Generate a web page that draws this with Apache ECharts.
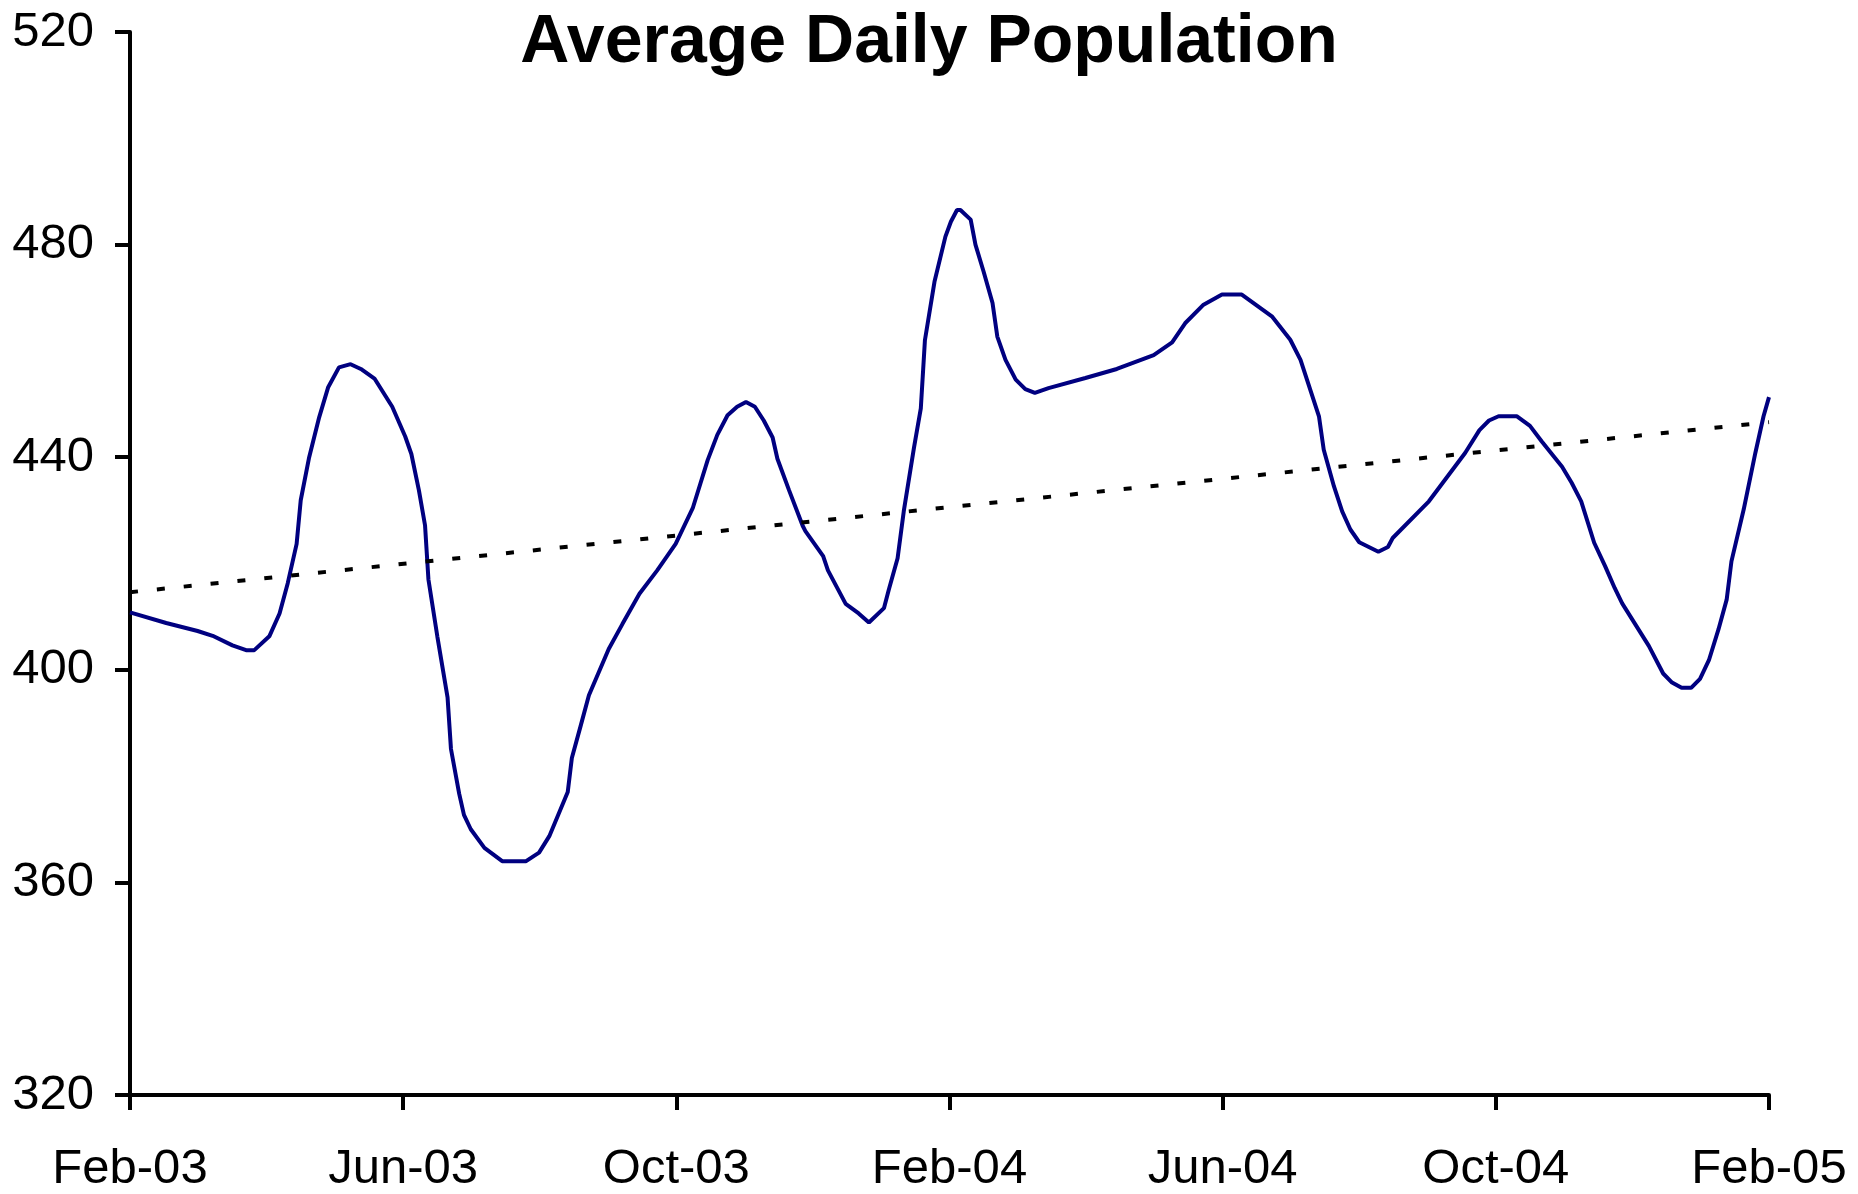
<!DOCTYPE html>
<html>
<head>
<meta charset="utf-8">
<title>Average Daily Population</title>
<script src="https://cdn.jsdelivr.net/npm/echarts@6/dist/echarts.min.js"></script>
<style>
  html, body { margin: 0; padding: 0; background: #fff; }
  #chart { width: 1858px; height: 1194px; }
</style>
</head>
<body>
<div id="chart"></div>
<script>
// x positions are months after Feb-03
const monthPos = [
  0.00, 0.53, 0.99, 1.21, 1.50, 1.70, 1.82, 2.04, 2.19, 2.31,
  2.44, 2.50, 2.62, 2.77, 2.90, 3.06, 3.23, 3.38, 3.58, 3.84,
  4.03, 4.12, 4.23, 4.32, 4.37, 4.50, 4.65, 4.70, 4.82, 4.89,
  4.99, 5.19, 5.45, 5.80, 5.99, 6.14, 6.41, 6.47, 6.60, 6.72,
  7.01, 7.21, 7.46, 7.72, 7.99, 8.24, 8.46, 8.60, 8.75, 8.89,
  9.02, 9.15, 9.28, 9.41, 9.48, 9.65, 9.85, 9.89, 10.15, 10.22,
  10.48, 10.67, 10.82, 11.04, 11.11, 11.24, 11.33, 11.48, 11.58, 11.64,
  11.78, 11.94, 12.02, 12.11, 12.16, 12.31, 12.38, 12.50, 12.63, 12.70,
  12.82, 12.97, 13.11, 13.25, 13.45, 13.99, 14.45, 14.99, 15.26, 15.45,
  15.72, 15.99, 16.28, 16.72, 16.99, 17.14, 17.41, 17.48, 17.63, 17.75,
  17.87, 18.00, 18.28, 18.42, 18.49, 19.02, 19.55, 19.76, 19.90, 20.04,
  20.31, 20.50, 20.67, 20.97, 21.11, 21.25, 21.44, 21.60, 21.74, 21.85,
  22.24, 22.45, 22.58, 22.72, 22.86, 22.99, 23.12, 23.26, 23.38, 23.45,
  23.63, 23.80, 23.92, 24.00
];

const population = [
  410.8, 408.8, 407.3, 406.4, 404.6, 403.7, 403.7, 406.3, 410.6, 416.3,
  423.7, 431.9, 439.8, 447.5, 453.1, 456.9, 457.5, 456.6, 454.8, 449.5,
  443.9, 440.6, 433.8, 427.2, 417.0, 406.3, 394.8, 385.1, 376.7, 372.7,
  370.0, 366.5, 364.0, 364.0, 365.6, 368.7, 377.0, 383.4, 389.5, 395.2,
  403.9, 408.6, 414.3, 418.7, 423.7, 430.4, 439.5, 444.2, 447.9, 449.5,
  450.4, 449.5, 446.9, 443.7, 439.7, 433.8, 427.1, 426.1, 421.4, 418.7,
  412.4, 410.6, 408.9, 411.6, 415.0, 421.0, 429.8, 441.8, 449.2, 462.0,
  473.0, 481.5, 484.3, 486.5, 486.5, 484.7, 480.0, 474.9, 469.0, 462.7,
  458.3, 454.6, 452.8, 452.1, 453.0, 454.9, 456.6, 459.2, 461.6, 465.2,
  468.7, 470.6, 470.6, 466.5, 462.1, 458.3, 447.7, 441.4, 434.5, 429.8,
  426.4, 424.0, 422.2, 423.1, 424.8, 431.7, 440.8, 445.1, 446.9, 447.7,
  447.7, 445.9, 443.0, 438.2, 435.2, 431.7, 423.9, 419.5, 415.4, 412.5,
  404.5, 399.3, 397.6, 396.6, 396.6, 398.3, 401.8, 407.6, 413.2, 420.4,
  430.2, 440.8, 447.7, 451.3
];

// linear trend, start and end
const trendPos = [0, 24];
const trendValues = [414.6, 446.6];

const xTickLabels = ['Feb-03', 'Jun-03', 'Oct-03', 'Feb-04', 'Jun-04', 'Oct-04', 'Feb-05'];

const chart = echarts.init(document.getElementById('chart'), null, { renderer: 'canvas' });

const fontFamily = '"Liberation Sans", Arial, sans-serif';
const axisLineStyle = { color: '#000', width: 4 };

const option = {
  backgroundColor: '#fff',
  animation: false,
  title: {
    text: 'Average Daily Population',
    left: 'center',
    top: 4,
    textStyle: {
      fontFamily: fontFamily,
      fontWeight: 'bold',
      fontSize: 68,
      color: '#000'
    }
  },
  grid: {
    left: 130,
    right: 89,
    top: 32,
    bottom: 97,
    containLabel: false
  },
  xAxis: {
    type: 'value',
    min: 0,
    max: 24,
    interval: 4,
    axisLine: { show: true, onZero: false, lineStyle: axisLineStyle },
    axisTick: { show: true, inside: false, length: 15, lineStyle: axisLineStyle },
    splitLine: { show: false },
    axisLabel: {
      margin: 50,
      color: '#000',
      fontFamily: fontFamily,
      fontSize: 49,
      formatter: function (val) {
        return xTickLabels[Math.round(val / 4)] || '';
      }
    }
  },
  yAxis: {
    type: 'value',
    min: 320,
    max: 520,
    interval: 40,
    axisLine: { show: true, lineStyle: axisLineStyle },
    axisTick: { show: true, inside: false, length: 15, lineStyle: axisLineStyle },
    splitLine: { show: false },
    axisLabel: {
      margin: 36,
      color: '#000',
      fontFamily: fontFamily,
      fontSize: 49
    }
  },
  series: [
    {
      name: 'Average Daily Population',
      type: 'line',
      data: monthPos.map((m, i) => [m, population[i]]),
      showSymbol: false,
      smooth: false,
      lineStyle: { color: '#000080', width: 4 },
      z: 2
    },
    {
      name: 'Trend',
      type: 'line',
      data: trendPos.map((m, i) => [m, trendValues[i]]),
      showSymbol: false,
      lineStyle: { color: '#000', width: 4, type: [8, 19] },
      z: 3
    }
  ]
};

chart.setOption(option);
</script>
</body>
</html>
